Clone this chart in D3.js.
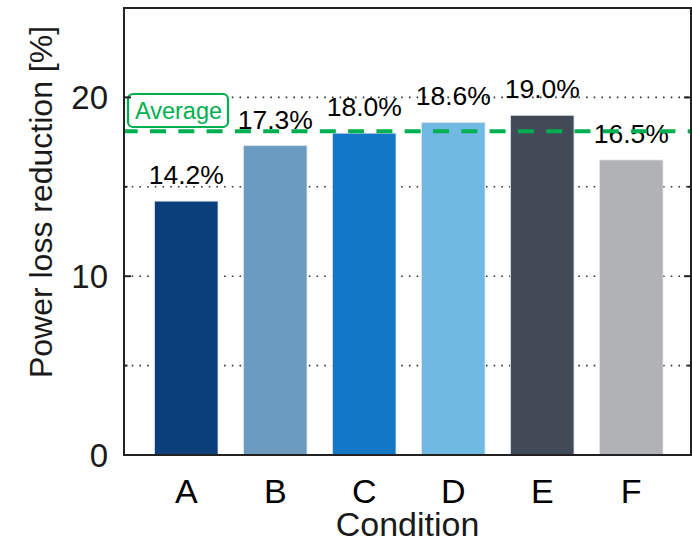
<!DOCTYPE html>
<html>
<head>
<meta charset="utf-8">
<script src="https://cdn.jsdelivr.net/npm/d3@7"></script>
<style>
html,body{margin:0;padding:0;background:#fff;}
svg{display:block;font-family:"Liberation Sans",Arial,sans-serif;}
</style>
</head>
<body>
<svg id="chart" width="692" height="542"></svg>
<script>
const categories = ["A","B","C","D","E","F"];
const values = [14.2, 17.3, 18.0, 18.6, 19.0, 16.5];
const valueLabels = ["14.2%","17.3%","18.0%","18.6%","19.0%","16.5%"];
const barColors = ["#0a3f7c","#6c9bc1","#1277c6","#6fb9e3","#414a56","#b1b2b4"];
const averageValue = 18.1;
const averageLabel = "Average";
const majorTicks = [0, 10, 20];
const minorTicks = [5, 15];
const gridValues = [5, 10, 15, 20];
const xTitle = "Condition";
const yTitle = "Power loss reduction [%]";

const svg = d3.select("#chart");
const L = 124, R = 691, T = 8, B = 455;
const green = "#00b050";

const y = d3.scaleLinear().domain([0, 25]).range([B, T]);
const x = d3.scaleBand().domain(categories).range([154.5, 663]).paddingInner(0.2865).paddingOuter(0);

// gridlines
svg.append("g").selectAll("line").data(gridValues).join("line")
  .attr("x1", L).attr("x2", R)
  .attr("y1", d => y(d)).attr("y2", d => y(d))
  .attr("stroke", "#333").attr("stroke-width", 1.6)
  .attr("stroke-dasharray", "1.6,6.1");

// bars
svg.append("g").selectAll("rect").data(values).join("rect")
  .attr("x", (d, i) => x(categories[i]))
  .attr("y", d => y(d))
  .attr("width", x.bandwidth())
  .attr("height", d => y(0) - y(d))
  .attr("fill", (d, i) => barColors[i])
  .attr("stroke", "#dfe6ee").attr("stroke-width", 0.8);

// value labels
svg.append("g").selectAll("text").data(values).join("text")
  .attr("x", (d, i) => x(categories[i]) + x.bandwidth() / 2)
  .attr("y", d => y(d) - 17)
  .attr("text-anchor", "middle")
  .attr("font-size", 26.5)
  .attr("fill", "#000")
  .text((d, i) => valueLabels[i]);

// average line
svg.append("line")
  .attr("x1", L).attr("x2", R)
  .attr("y1", y(averageValue)).attr("y2", y(averageValue))
  .attr("stroke", green).attr("stroke-width", 4)
  .attr("stroke-dasharray", "16,12.3")
  .attr("stroke-dashoffset", 2.3);

// average label box
const ag = svg.append("g");
ag.append("rect")
  .attr("x", 128).attr("y", 94).attr("width", 100).attr("height", 33)
  .attr("rx", 5).attr("ry", 5)
  .attr("fill", "#fff").attr("stroke", green).attr("stroke-width", 2.2);
ag.append("text")
  .attr("x", 178.5).attr("y", 118.5)
  .attr("text-anchor", "middle")
  .attr("font-size", 23.5)
  .attr("fill", green)
  .text(averageLabel);

// frame
svg.append("rect")
  .attr("x", L).attr("y", T).attr("width", R - L).attr("height", B - T)
  .attr("fill", "none").attr("stroke", "#222").attr("stroke-width", 2);

// ticks (inward, both sides)
const tg = svg.append("g").attr("stroke", "#222").attr("stroke-width", 2);
majorTicks.forEach(v => {
  tg.append("line").attr("x1", L).attr("x2", L + 7).attr("y1", y(v)).attr("y2", y(v));
  tg.append("line").attr("x1", R).attr("x2", R - 7).attr("y1", y(v)).attr("y2", y(v));
});
minorTicks.forEach(v => {
  tg.append("line").attr("x1", L).attr("x2", L + 3.5).attr("y1", y(v)).attr("y2", y(v));
  tg.append("line").attr("x1", R).attr("x2", R - 3.5).attr("y1", y(v)).attr("y2", y(v));
});

// y tick labels
svg.append("g").selectAll("text").data(majorTicks).join("text")
  .attr("x", 108).attr("y", d => y(d))
  .attr("dy", "0.36em")
  .attr("text-anchor", "end")
  .attr("font-size", 33)
  .attr("fill", "#1a1a1a")
  .text(d => d);

// x tick labels
svg.append("g").selectAll("text").data(categories).join("text")
  .attr("x", d => x(d) + x.bandwidth() / 2)
  .attr("y", 503)
  .attr("text-anchor", "middle")
  .attr("font-size", 34)
  .attr("fill", "#000")
  .text(d => d);

// axis titles
svg.append("text")
  .attr("x", 407.5).attr("y", 536)
  .attr("text-anchor", "middle")
  .attr("font-size", 34)
  .attr("fill", "#1a1a1a")
  .text(xTitle);

svg.append("text")
  .attr("transform", "translate(52,202) rotate(-90)")
  .attr("text-anchor", "middle")
  .attr("font-size", 32)
  .attr("fill", "#1a1a1a")
  .text(yTitle);
</script>
</body>
</html>
